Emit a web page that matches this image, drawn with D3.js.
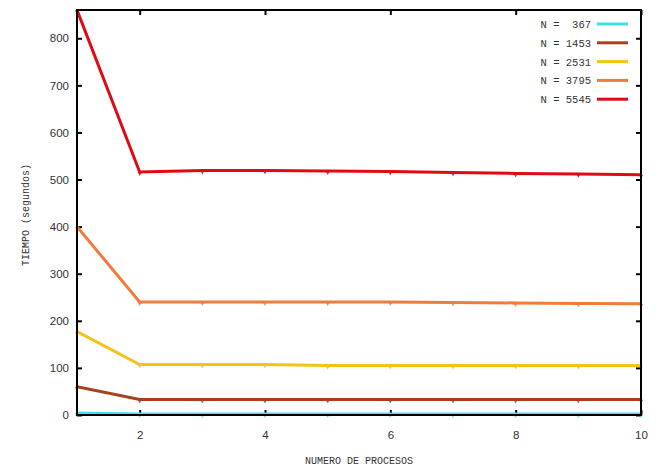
<!DOCTYPE html>
<html><head><meta charset="utf-8">
<script src="https://cdn.jsdelivr.net/npm/d3@7"></script>
<style>body{margin:0;background:#fff}</style>
</head><body>
<svg id="c" width="665" height="468"></svg>
<script>
const procesos = [1,2,3,4,5,6,7,8,9,10];
const seriesNames = ["N =  367","N = 1453","N = 2531","N = 3795","N = 5545"];
const seriesColors = ["#3ee0ea","#a8401e","#f5c218","#f07c3c","#e00a14"];
const n367  = [4,2,2,2,2,2,2,2,2,2];
const n1453 = [60,33,33,33,33,33,33,33,33,33];
const n2531 = [177,107,107,107,105,105,105,105,105,105];
const n3795 = [400,240,240,240,240,240,239,238,237,236];
const n5545 = [860,516,519,519,518,517,515,513,512,510];
const yTicks = [0,100,200,300,400,500,600,700,800];
const xTicks = [2,4,6,8,10];
const allSeries = [n367,n1453,n2531,n3795,n5545];

const svg = d3.select("#c");
const L=77,R=641,T=10,B=415;
const x = d3.scaleLinear().domain([1,10]).range([L,R]);
const y = d3.scaleLinear().domain([0,860]).range([B,T]);
const font = "Liberation Sans, Arial, sans-serif";
const mono = "Liberation Mono, DejaVu Sans Mono, monospace";

const axL = svg.append("g").attr("transform",`translate(${L},0)`)
  .call(d3.axisLeft(y).tickValues(yTicks).tickSize(-5).tickPadding(8));
const axR = svg.append("g").attr("transform",`translate(${R},0)`)
  .call(d3.axisRight(y).tickValues(yTicks).tickSize(-5).tickFormat(""));
const axB = svg.append("g").attr("transform",`translate(0,${B})`)
  .call(d3.axisBottom(x).tickValues(xTicks).tickSize(-5).tickPadding(16));
const axT = svg.append("g").attr("transform",`translate(0,${T})`)
  .call(d3.axisTop(x).tickValues(xTicks).tickSize(-5).tickFormat(""));
[axL,axR,axB,axT].forEach(g=>{
  g.select(".domain").remove();
  g.selectAll(".tick line").attr("stroke","#000").attr("stroke-width",2);
  g.selectAll(".tick text").attr("fill","#333").style("font-family",font).style("font-size","11.5px");
});

const line = d3.line().x((d,i)=>x(procesos[i])).y(d=>y(d));
svg.append("clipPath").attr("id","clp").append("rect")
  .attr("x",L).attr("y",T).attr("width",R-L).attr("height",B-T);
allSeries.forEach((s,k)=>{
  svg.append("path").datum(s).attr("d",line).attr("fill","none")
    .attr("stroke",seriesColors[k]).attr("stroke-width",3).attr("stroke-linejoin","miter")
    .attr("clip-path","url(#clp)");
  svg.append("g").selectAll("path").data(s).join("path")
    .attr("d",d3.symbol(d3.symbolTriangle,8))
    .attr("transform",(d,i)=>`translate(${x(procesos[i])},${y(d)+1.5}) rotate(180)`)
    .attr("fill",seriesColors[k]).attr("opacity",0.8);
});

svg.append("rect").attr("x",L).attr("y",T).attr("width",R-L).attr("height",B-T)
  .attr("fill","none").attr("stroke","#000").attr("stroke-width",2);

seriesNames.forEach((nm,k)=>{
  const yy = 24 + k*18.8;
  svg.append("text").attr("x",591).attr("y",yy+4).attr("text-anchor","end")
    .attr("xml:space","preserve").style("white-space","pre")
    .style("font-family",mono).style("font-size","10.5px").attr("fill","#333").text(nm);
  svg.append("line").attr("x1",597).attr("x2",628).attr("y1",yy).attr("y2",yy)
    .attr("stroke",seriesColors[k]).attr("stroke-width",3);
});

svg.append("text").attr("x",359).attr("y",464).attr("text-anchor","middle")
  .style("font-family",mono).style("font-size","10px").attr("fill","#333")
  .text("NUMERO DE PROCESOS");
svg.append("text").attr("transform","translate(29,215) rotate(-90)").attr("text-anchor","middle")
  .style("font-family",mono).style("font-size","10px").attr("fill","#333")
  .text("TIEMPO (segundos)");
</script>
</body></html>
